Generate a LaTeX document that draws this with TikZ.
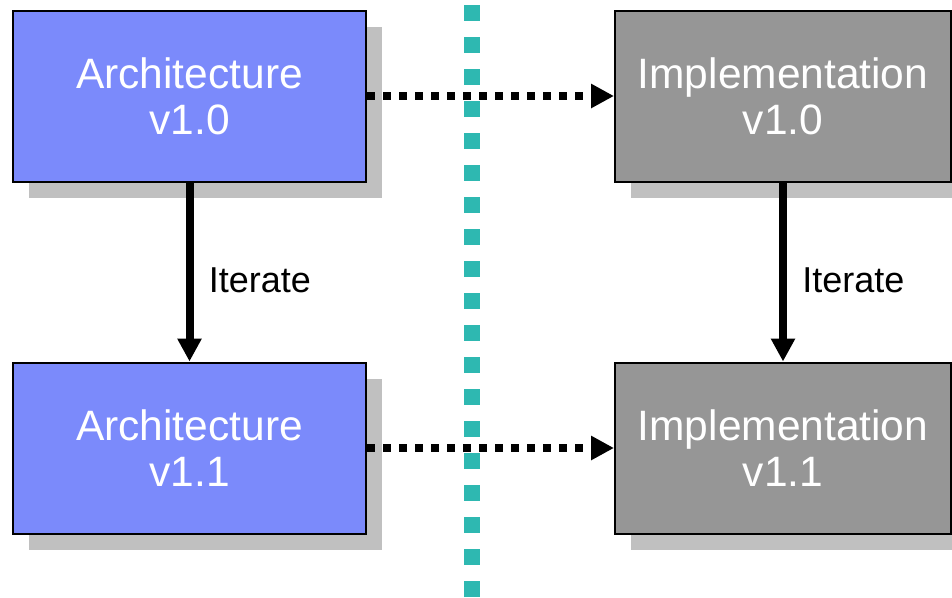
\documentclass[tikz,border=0pt]{standalone}
\usepackage{fontspec}
\setmainfont{Liberation Sans}
\definecolor{archblue}{HTML}{7B8AFB}
\definecolor{implgray}{HTML}{969696}
\definecolor{shadowgray}{HTML}{C0C0C0}
\definecolor{dividerteal}{HTML}{2EB8B1}
\usetikzlibrary{arrows.meta,positioning,shadows}
\tikzset{
    versionbox/.style={
        draw=black,
        line width=2pt,
        minimum height=171pt,
        align=center,
        text=white,
        inner sep=0pt,
        font=\fontsize{42.5}{46}\selectfont,
        drop shadow={shadow xshift=16pt,shadow yshift=-16pt,
                     fill=shadowgray,opacity=1}
    },
    archbox/.style={
        versionbox,
        fill=archblue,
        minimum width=353pt
    },
    implbox/.style={
        versionbox,
        fill=implgray,
        minimum width=336pt
    },
    iteratearrow/.style={
        -{Triangle[length=23pt,width=23pt]},
        draw=black,
        line width=8pt
    },
    mappingarrow/.style={
        -{Triangle[length=23pt,width=23pt]},
        draw=black,
        line width=8pt,
        dash pattern=on 8pt off 8pt
    },
    iteratelabel/.style={
        anchor=west,
        xshift=12pt,
        yshift=-8pt,
        font=\fontsize{36}{40}\selectfont
    },
    divider/.style={
        draw=dividerteal,
        line width=16pt,
        dash pattern=on 16pt off 16pt
    }
}

\begin{document}
\begin{tikzpicture}[x=1pt,y=-1pt]
        \useasboundingbox (0,0) rectangle (952,597);

        \coordinate (dividertop) at (472,5);
        \coordinate (dividerbottom) at (472,597);
        \draw[divider] (dividertop) -- (dividerbottom);

        \node[archbox] (arch10) at (189.5,96) {Architecture\\v1.0};
        \node[archbox] (arch11) at (189.5,448) {Architecture\\v1.1};
        \node[implbox] (impl10) at (783,96) {Implementation\\v1.0};
        \node[implbox] (impl11) at (783,448) {Implementation\\v1.1};

        \draw[iteratearrow] (arch10.south) -- node[iteratelabel] {Iterate} (arch11.north);
        \draw[iteratearrow] (impl10.south) -- node[iteratelabel] {Iterate} (impl11.north);
        \draw[mappingarrow] (arch10.east) -- (impl10.west);
        \draw[mappingarrow] (arch11.east) -- (impl11.west);
    \end{tikzpicture}
\end{document}
